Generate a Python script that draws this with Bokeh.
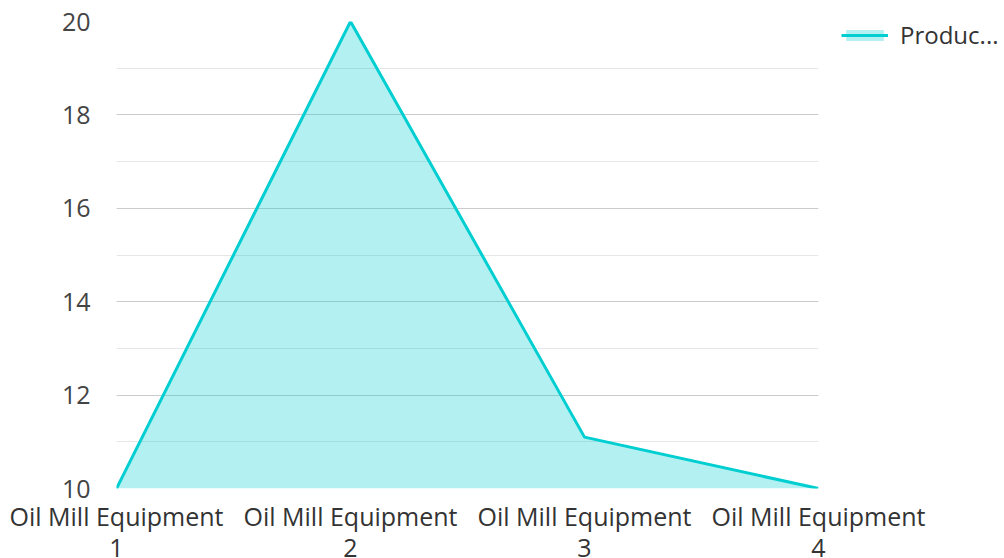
from bokeh.plotting import figure
from bokeh.models import (ColumnDataSource, Range1d, SingleIntervalTicker, FixedTicker,
                          Legend, LegendItem)
from bokeh.embed import file_html
from bokeh.resources import INLINE

categories = ["Oil Mill Equipment\n1", "Oil Mill Equipment\n2",
              "Oil Mill Equipment\n3", "Oil Mill Equipment\n4"]
values = [10, 20, 11.1, 10]
series_name = "Produc..."

xs = list(range(len(categories)))
src = ColumnDataSource(dict(x=xs, y=values, base=[10] * len(values)))

p = figure(width=996, height=550, output_backend="svg", toolbar_location=None,
           x_range=Range1d(0, 3), y_range=Range1d(10, 20),
           min_border_left=116, min_border_right=178, min_border_top=21,
           min_border_bottom=62)
p.frame_width = 702
p.frame_height = 467
p.outline_line_color = None
p.background_fill_color = "white"

area = p.varea(x="x", y1="base", y2="y", source=src, fill_color="#00CED1", fill_alpha=0.3)
line = p.line(x="x", y="y", source=src, line_color="#00CED1", line_width=3)

# axes
p.xaxis.ticker = FixedTicker(ticks=xs)
p.xaxis.major_label_overrides = {i: c for i, c in zip(xs, categories)}
p.yaxis.ticker = SingleIntervalTicker(interval=2, num_minor_ticks=2)
for ax in (p.xaxis[0], p.yaxis[0]):
    ax.axis_line_color = None
    ax.major_tick_line_color = None
    ax.minor_tick_line_color = None
    ax.major_label_text_font = "Open Sans"
    ax.major_label_text_font_size = "25px"
    ax.major_label_text_color = "#333333"
p.yaxis.major_label_text_color = "#444444"
p.yaxis.major_label_standoff = 20
p.xaxis.major_label_standoff = 4
p.xaxis.major_label_text_line_height = 0.92

p.xgrid.grid_line_color = None
p.ygrid.grid_line_color = "#cccccc"
p.ygrid.grid_line_width = 1
p.ygrid.minor_grid_line_color = "#e6e6e6"

legend = Legend(items=[LegendItem(label=series_name, renderers=[area, line])],
                location=(23, 437), orientation="vertical",
                margin=0, padding=0, border_line_color=None,
                background_fill_alpha=0,
                glyph_width=47, glyph_height=14, label_standoff=12,
                label_text_font="Open Sans", label_text_font_size="24px",
                label_text_color="#333333")
p.add_layout(legend, "right")

open("out.html", "w").write(file_html(p, INLINE))
